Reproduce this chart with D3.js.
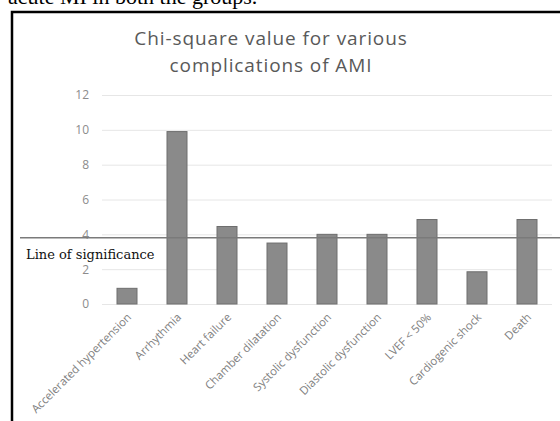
<!DOCTYPE html>
<html>
<head>
<meta charset="utf-8">
<script src="https://cdn.jsdelivr.net/npm/d3@7"></script>
<style>
  body { margin: 0; background: #fff; }
  svg { display: block; }
</style>
</head>
<body>
<svg id="chart"></svg>
<script>
var width = 560;
var height = 421;

// chart values
var categories = ["Accelerated hypertension", "Arrhythmia", "Heart failure", "Chamber dilatation",
    "Systolic dysfunction", "Diastolic dysfunction", "LVEF < 50%", "Cardiogenic shock", "Death"];
var chiValues = [0.9, 9.9, 4.45, 3.5, 4.0, 4.0, 4.85, 1.85, 4.85];
var yTicks = [0, 2, 4, 6, 8, 10, 12];
var significance = 3.8;
var titleLines = ["Chi-square value for various", "complications of AMI"];

var svg = d3.select("#chart").attr("width", width).attr("height", height);

// piece of the page text above the figure, cut off by the crop
svg.append("text")
    .attr("x", 8)
    .attr("y", 4)
    .style("font", "22px 'Liberation Serif'")
    .style("fill", "#000")
    .text("acute MI in both the groups.");

// frame of the figure
svg.append("rect")
    .attr("x", 12)
    .attr("y", 12)
    .attr("width", 600)
    .attr("height", 500)
    .attr("fill", "#fff")
    .attr("stroke", "#000")
    .attr("stroke-width", 2.5);

var plot = {left: 102, right: 552, top: 95, bottom: 304};

var x = d3.scaleBand()
    .domain(categories)
    .range([plot.left, plot.right])
    .paddingInner(0.6)
    .paddingOuter(0.3);

var y = d3.scaleLinear()
    .domain([0, 12])
    .range([plot.bottom, plot.top]);

// title
svg.append("g")
    .selectAll("text")
    .data(titleLines)
    .enter().append("text")
    .attr("x", 271)
    .attr("y", function (d, i) { return 45 + i * 27; })
    .attr("text-anchor", "middle")
    .style("font", "19px 'Open Sans'")
    .style("letter-spacing", "0.9px")
    .style("fill", "#595959")
    .text(function (d) { return d; });

// gridlines + y labels
var yAxis = d3.axisLeft(y)
    .tickValues(yTicks)
    .tickSize(-(plot.right - plot.left))
    .tickPadding(13);

var gy = svg.append("g")
    .attr("transform", "translate(" + plot.left + ",0)")
    .call(yAxis);
gy.select(".domain").remove();
gy.selectAll(".tick line").attr("stroke", "#e6e6e6").attr("stroke-width", 1);
gy.selectAll(".tick text")
    .style("font", "12px 'Open Sans'")
    .style("fill", "#8c8c8c");

// bars
svg.append("g")
    .selectAll("rect")
    .data(chiValues)
    .enter().append("rect")
    .attr("x", function (d, i) { return x(categories[i]); })
    .attr("y", function (d) { return y(d); })
    .attr("width", x.bandwidth())
    .attr("height", function (d) { return y(0) - y(d); })
    .attr("fill", "#8a8a8a")
    .attr("stroke", "#6e6e6e")
    .attr("stroke-width", 1);

// category labels, rotated
var xAxis = d3.axisBottom(x).tickSize(0).tickPadding(0);
var gx = svg.append("g")
    .attr("transform", "translate(0," + plot.bottom + ")")
    .call(xAxis);
gx.select(".domain").remove();
gx.selectAll(".tick text")
    .attr("text-anchor", "end")
    .attr("dy", 0)
    .attr("transform", "translate(5,14) rotate(-45)")
    .style("font", "11.4px 'Open Sans'")
    .style("fill", "#808080");

// line of significance
svg.append("line")
    .attr("x1", 20)
    .attr("x2", width)
    .attr("y1", y(significance))
    .attr("y2", y(significance))
    .attr("stroke", "#7a7a7a")
    .attr("stroke-width", 1.5);

svg.append("text")
    .attr("x", 26)
    .attr("y", 259)
    .style("font", "13px 'DejaVu Serif'")
    .style("fill", "#111")
    .text("Line of significance");
</script>
</body>
</html>
